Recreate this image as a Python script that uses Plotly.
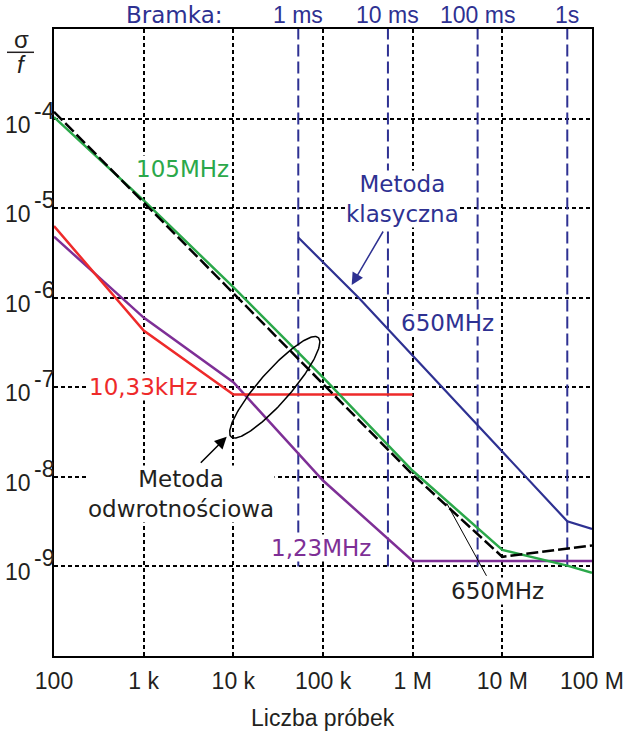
import numpy as np
import plotly.graph_objects as go

# ---- axes -------------------------------------------------------------
x_ticks = [1e2, 1e3, 1e4, 1e5, 1e6, 1e7, 1e8]
x_tick_text = ["100", "1 k", "10 k", "100 k", "1 M", "10 M", "100 M"]
y_ticks = [1e-9, 1e-8, 1e-7, 1e-6, 1e-5, 1e-4]
y_exponents = ["-9", "-8", "-7", "-6", "-5", "-4"]

# ---- gate times (number of samples for each gate) ---------------------
gate_samples = [5.3e4, 5.3e5, 5.3e6, 5.3e7]
gate_labels = ["1 ms", "10 ms", "100 ms", "1s"]

# ---- reciprocal method ------------------------------------------------
n_105M = [1e2, 1e3, 1e4, 1e5, 1e6, 1e7, 5.3e7, 1e8]
s_105M = [1.04e-4, 1.22e-5, 1.31e-6, 1.29e-7, 1.17e-8, 1.53e-9, 1.02e-9, 8.5e-10]

n_650M_rec = [1e2, 1e6, 1e7, 1e8]
s_650M_rec = [1.19e-4, 1.06e-8, 1.28e-9, 1.71e-9]

n_1033k = [1e2, 1e3, 1e4, 1e6]
s_1033k = [6.3e-6, 4.3e-7, 8.3e-8, 8.3e-8]

n_123M = [1e2, 1e3, 1e4, 1e5, 1e6, 1e8]
s_123M = [4.8e-6, 6.0e-7, 1.14e-7, 9.1e-9, 1.15e-9, 1.15e-9]

# ---- classical method -------------------------------------------------
n_650M_cls = [5.3e4, 2.5e5, 5.3e7, 1e8]
s_650M_cls = [4.7e-6, 1.0e-6, 3.19e-9, 2.62e-9]

BLUE = "#2E3192"
GREEN = "#2BA84A"
RED = "#EE2A2A"
PURPLE = "#7E2F96"
INK = "#231F20"
SANS = "Liberation Sans"
WIDE = "DejaVu Sans"
FS = 23

# figure geometry (pixels)
L, T, W, H = 54, 29, 538, 627
FIG_W, FIG_H = 628, 734


def px(xp, yp):
    """Paper coordinates for a pixel position inside the figure."""
    return dict(x=(xp - L) / W, y=(T + H - yp) / H, xref="paper", yref="paper")


fig = go.Figure()

# gate markers
for g in gate_samples:
    fig.add_trace(go.Scatter(
        x=[g, g], y=[1e-9, 1e-3], mode="lines",
        line=dict(color=BLUE, width=2, dash="12px,5px"),
        hoverinfo="skip", showlegend=False))

fig.add_trace(go.Scatter(x=n_123M, y=s_123M, mode="lines",
                         line=dict(color=PURPLE, width=2.5), showlegend=False))
fig.add_trace(go.Scatter(x=n_1033k, y=s_1033k, mode="lines",
                         line=dict(color=RED, width=2.5), showlegend=False))
fig.add_trace(go.Scatter(x=n_105M, y=s_105M, mode="lines",
                         line=dict(color=GREEN, width=2.5), showlegend=False))
fig.add_trace(go.Scatter(x=n_650M_rec, y=s_650M_rec, mode="lines",
                         line=dict(color="black", width=2.5, dash="12px,4px"),
                         showlegend=False))
fig.add_trace(go.Scatter(x=n_650M_cls, y=s_650M_cls, mode="lines",
                         line=dict(color=BLUE, width=2.2), showlegend=False))

# ellipse grouping the reciprocal-method curves (log-decade units)
t = np.linspace(0, 2 * np.pi, 200)
cx, cy, a, b, th = 4.462, -7.0, 0.737, 0.175, np.radians(48.8)
ex = cx + a * np.cos(t) * np.cos(th) - b * np.sin(t) * np.sin(th)
ey = cy + a * np.cos(t) * np.sin(th) + b * np.sin(t) * np.cos(th)
fig.add_trace(go.Scatter(x=10 ** ex, y=10 ** ey, mode="lines",
                         line=dict(color="black", width=1.5),
                         hoverinfo="skip", showlegend=False))

ann = []


def label(text, xp, yp, color=INK, family=WIDE, size=FS, bg="white", **kw):
    d = px(xp, yp)
    d.update(text=text, showarrow=False, xanchor="center", yanchor="middle",
             font=dict(family=family, size=size, color=color),
             bgcolor=bg, borderpad=0)
    d.update(kw)
    ann.append(d)


def arrow(tip, tail, color, head=2, width=1.5, size=1.6):
    d = px(*tip)
    d.update(text="", showarrow=True, arrowhead=head, arrowwidth=width,
             arrowsize=size, arrowcolor=color, axref="pixel", ayref="pixel",
             ax=tail[0] - tip[0], ay=tail[1] - tip[1])
    ann.append(d)


# y tick labels: 10 with a full-size raised exponent
for v, e in zip(y_ticks, y_exponents):
    ann.append(dict(text="10", x=(33 - L) / W, xref="paper", y=np.log10(v), yref="y",
                    xanchor="right", yanchor="middle", yshift=-6, showarrow=False,
                    font=dict(family=SANS, size=FS, color=INK)))
    ann.append(dict(text=e, x=(32 - L) / W, xref="paper", y=np.log10(v), yref="y",
                    xanchor="left", yanchor="middle", yshift=8, showarrow=False,
                    font=dict(family=SANS, size=FS, color=INK)))

# y axis symbol σ/f
label("σ", 21, 39, family=SANS, size=24, bg="rgba(0,0,0,0)")
label("<i>f</i>", 21, 64, family=SANS, size=24, bg="rgba(0,0,0,0)")

# gate header
label("Bramka:", 174, 15, color=BLUE, bg="rgba(0,0,0,0)")
for g, s in zip(gate_samples, gate_labels):
    ann.append(dict(text=s, x=np.log10(g), xref="x", y=(T + H - 15) / H, yref="paper",
                    xanchor="center", yanchor="middle", showarrow=False,
                    font=dict(family=SANS, size=FS, color=BLUE)))

# curve labels
label("105MHz", 182.5, 168.5, color=GREEN)
label("Metoda<br>klasyczna", 402, 198.5, color=BLUE)
label("650MHz", 447.5, 322.5, color=BLUE)
label("10,33kHz", 143.7, 386.7, color=RED)
label("Metoda<br>odwrotnościowa", 181.3, 494, color=INK)
label("1,23MHz", 320.8, 548, color=PURPLE)
label("650MHz", 497, 591, color=INK)

# pointers
arrow((351.7, 285), (384, 230), BLUE)
arrow((226.7, 436.7), (199.3, 464.3), "black")
arrow((446.7, 503.3), (487.3, 577.3), "black", head=0, width=1)

# x axis title
label("Liczba próbek", 323, 718, family=SANS, bg="rgba(0,0,0,0)")

fig.update_layout(
    width=FIG_W, height=FIG_H,
    margin=dict(l=L, r=FIG_W - L - W, t=T, b=FIG_H - T - H, autoexpand=False),
    paper_bgcolor="white", plot_bgcolor="white",
    annotations=ann,
    shapes=[dict(type="line", xref="paper", yref="paper",
                 x0=(7 - L) / W, x1=(34 - L) / W,
                 y0=(T + H - 52.3) / H, y1=(T + H - 52.3) / H,
                 line=dict(color=INK, width=1.5))],
    xaxis=dict(type="log", range=[2, 8], tickvals=x_ticks, ticktext=x_tick_text,
               showgrid=True, gridcolor="black", gridwidth=1.8, griddash="4px,3px",
               showline=True, linecolor="black", linewidth=2, mirror=True,
               ticks="", ticklabelstandoff=3, zeroline=False, automargin=False,
               tickfont=dict(family=SANS, size=FS, color=INK)),
    yaxis=dict(type="log", range=[-10, -3], tickvals=y_ticks, showticklabels=False,
               showgrid=True, gridcolor="black", gridwidth=1.8, griddash="4px,3px",
               showline=True, linecolor="black", linewidth=2, mirror=True,
               ticks="", zeroline=False, automargin=False),
)

fig.write_html("out.html")
